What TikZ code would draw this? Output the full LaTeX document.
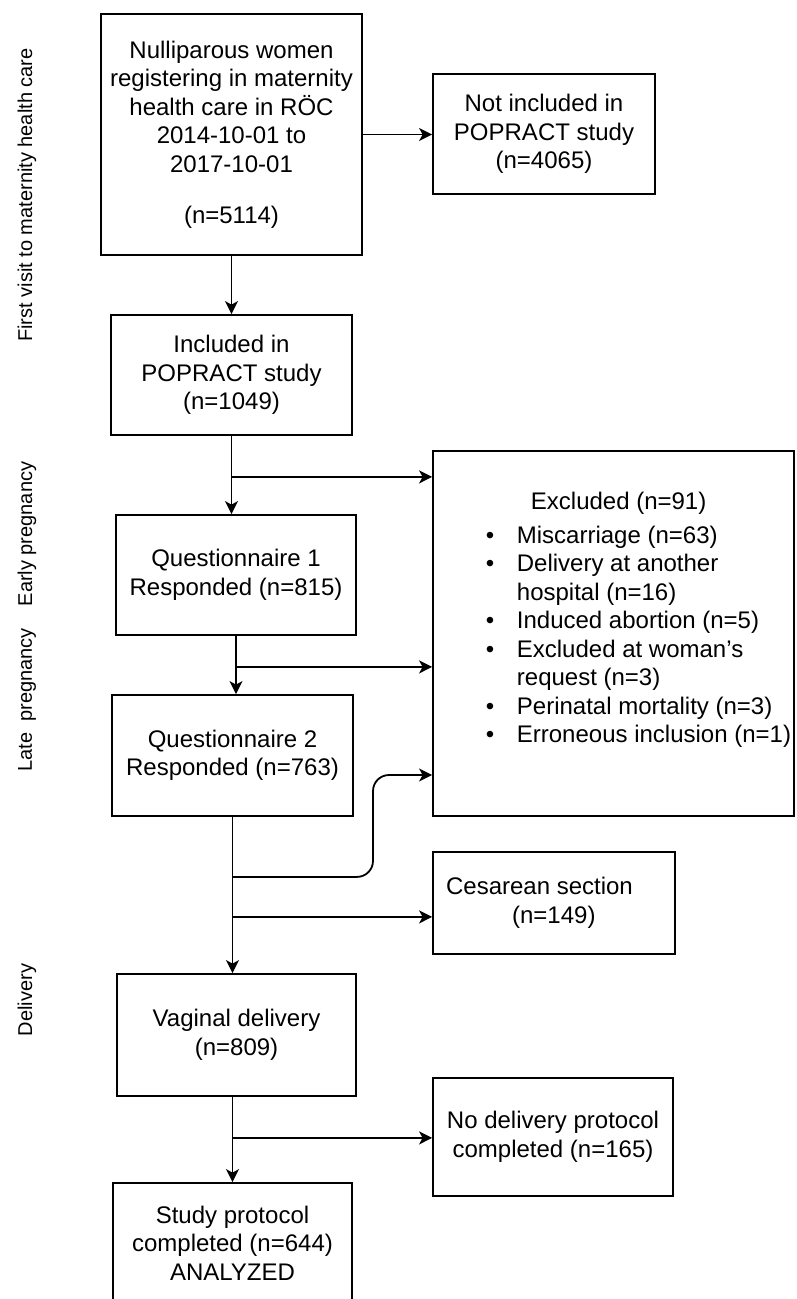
\documentclass[tikz,border=0pt]{standalone}
\usepackage{fontspec}
\setmainfont{Liberation Sans}
\usetikzlibrary{arrows.meta,calc}

\tikzset{
    box/.style={draw, line width=1.8pt, inner sep=0pt, align=center, font=\fontsize{24}{28.5}\selectfont},
    arr/.style={line width=1.8pt, -{Stealth[length=13pt,width=13pt,inset=3.5pt]}},
    phase/.style={rotate=90, font=\fontsize{20}{24}\selectfont},
}

\begin{document}
\begin{tikzpicture}[x=1pt,y=-1pt]
        \useasboundingbox (0,0) rectangle (796,1299);
        \clip (0,0) rectangle (796,1299);
        % Phases on the left
        \node[phase] (lfirst) at (27,195) {First visit to maternity health care};
        \node[phase] (learly) at (27,534) {Early pregnancy};
        \node[phase] (llate) at (27,700) {Late\ \ pregnancy};
        \node[phase] (ldel) at (27,1000) {Delivery};
        % Main flow
        \node[box, minimum width=261pt, minimum height=241pt] (reg) at (231.5,134.5) {Nulliparous women\\registering in maternity\\health care in RÖC\\2014-10-01 to\\2017-10-01\\[22.5pt](n=5114)};
        \node[box, minimum width=241pt, minimum height=120pt] (inc) at (231.5,375) {Included in\\POPRACT study\\(n=1049)};
        \node[box, minimum width=240pt, minimum height=120pt] (q1) at (236,575) {Questionnaire 1\\Responded (n=815)};
        \node[box, minimum width=241pt, minimum height=121pt] (q2) at (232.5,755.5) {Questionnaire 2\\Responded (n=763)};
        \node[box, minimum width=239pt, minimum height=122pt] (vag) at (236.5,1035) {Vaginal delivery\\(n=809)};
        \node[box, minimum width=239pt, minimum height=120pt] (study) at (232.5,1243) {Study protocol\\completed (n=644)\\ANALYZED};
        % Side boxes
        \node[box, minimum width=361pt, minimum height=365pt] (excl) at (613.5,633.5) {\hspace*{50pt}\begin{tabular}{@{}l@{\hspace{22.6pt}}l@{}}
            \multicolumn{2}{@{}l@{}}{\hspace*{45pt}Excluded (n=91)}\\[5pt]
            \textbullet & Miscarriage (n=63)\\
            \textbullet & Delivery at another\\
                        & hospital (n=16)\\
            \textbullet & Induced abortion (n=5)\\
            \textbullet & Excluded at woman’s\\
                        & request (n=3)\\
            \textbullet & Perinatal mortality (n=3)\\
            \textbullet & Erroneous inclusion (n=1)\\[26pt]
        \end{tabular}};
        \node[box, minimum width=222pt, minimum height=120pt] (notinc) at (544,134) {Not included in\\POPRACT study\\(n=4065)};
        \node[box, align=left, minimum width=242pt, minimum height=102pt] (ces) at (554,903) {Cesarean section\hspace*{29pt}\\\hspace*{66pt}(n=149)};
        \node[box, minimum width=240pt, minimum height=118pt] (nodel) at (553,1137) {No delivery protocol\\completed (n=165)};
        % Branch points
        \coordinate (b1) at ($(inc.south)+(0,41)$);
        \coordinate (b2) at ($(q1.south)+(0,31)$);
        \coordinate (b3) at ($(q2.south)+(0,60)$);
        \coordinate (b4) at ($(q2.south)+(0,100)$);
        \coordinate (b5) at ($(study.north |- vag.south)+(0,41)$);
        \coordinate (turn) at (373,775);
        % Connectors
        \draw[arr] (reg.east) -- (reg.east -| notinc.west);
        \draw[arr] (reg.south) -- (reg.south |- inc.north);
        \draw[arr] (inc.south) -- (inc.south |- q1.north);
        \draw[arr] (b1) -- (b1 -| excl.west);
        \draw[arr] (q1.south) -- (q1.south |- q2.north);
        \draw[arr] (b2) -- (b2 -| excl.west);
        \draw[arr] (q2.south) -- (q2.south |- vag.north);
        \draw[arr, rounded corners=16pt] (b3) -| (turn) -- (turn -| excl.west);
        \draw[arr] (b4) -- (b4 -| ces.west);
        \draw[arr] (study.north |- vag.south) -- (study.north);
        \draw[arr] (b5) -- (b5 -| nodel.west);
    \end{tikzpicture}
\end{document}
